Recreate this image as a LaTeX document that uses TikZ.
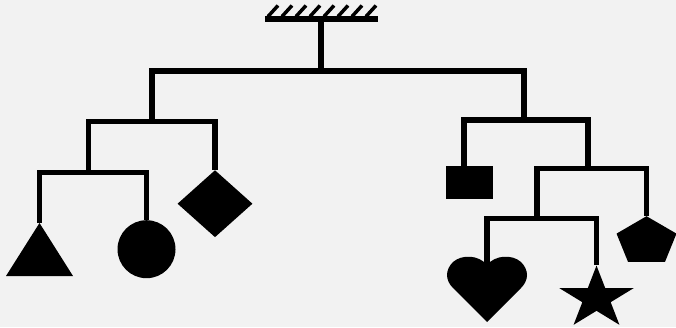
\documentclass[tikz,border=0pt]{standalone}
\usetikzlibrary{shapes.geometric}
\definecolor{paper}{RGB}{242,242,242}

\begin{document}
\begin{tikzpicture}[
    x=1pt, y=-1pt,
    rod/.style={line width=5.5pt, line join=miter, black},
    weight/.style={fill=black, draw=none, inner sep=0pt, anchor=north},
]
\fill[paper] (0,0) rectangle (676,327);
\useasboundingbox (0,0) rectangle (676,327);

% ceiling
\coordinate (C) at (321,19);
\draw[line width=6pt] (265,19) -- (378,19);
\foreach \i in {0,...,7}
  \draw[line width=3.5pt] (268+14*\i,16.5) -- ++(10,-11);

% weights
\coordinate (tri) at (39.5,223);
\fill (tri) -- (73,276) -- (6,276) -- cycle;
\node[weight, circle, minimum size=58pt] (ball) at (146.5,220) {};
\node[weight, diamond, minimum width=75pt, minimum height=67pt] (kite) at (215,170) {};
\coordinate (hook) at (464,166);
\node[weight, rectangle, minimum width=47pt, minimum height=33pt] (block) at (469.5,166) {};
\node[weight, regular polygon, regular polygon sides=5, minimum size=63pt, yscale=0.8, transform shape] (penta) at (646.5,216) {};
\coordinate (heart) at (487,265);
\fill (heart) .. controls (479,255) and (462,254) .. (453,262)
  .. controls (445,270) and (445,280) .. (453,288) -- (487,322) -- (521,288)
  .. controls (529,280) and (529,270) .. (521,262)
  .. controls (512,254) and (495,255) .. (heart) -- cycle;
\node[weight, star, star points=5, star point ratio=2.618, minimum size=78pt, yscale=0.84, transform shape] (starw) at (596.5,265) {};

% bars
\coordinate (hub) at (321,71);
\coordinate (armL) at (152,121.5);
\coordinate (armR) at (524,120);
\coordinate (pairL) at (88.5,172.5);
\coordinate (pairR) at (588,168.5);
\coordinate (pairH) at (537,218.5);

\draw[rod] (C) -- (hub);
\draw[rod] (armL) -- (armL |- hub) -- (armR |- hub) -- (armR);
\draw[rod] (pairL) -- (pairL |- armL) -- (kite.north |- armL) -- (kite.north);
\draw[rod] (tri) -- (tri |- pairL) -- (ball.north |- pairL) -- (ball.north);
\draw[rod] (hook) -- (hook |- armR) -- (pairR |- armR) -- (pairR);
\draw[rod] (pairH) -- (pairH |- pairR) -- (penta.north |- pairR) -- (penta.north);
\draw[rod] (heart) -- (heart |- pairH) -- (starw.north |- pairH) -- (starw.north);
\end{tikzpicture}
\end{document}
